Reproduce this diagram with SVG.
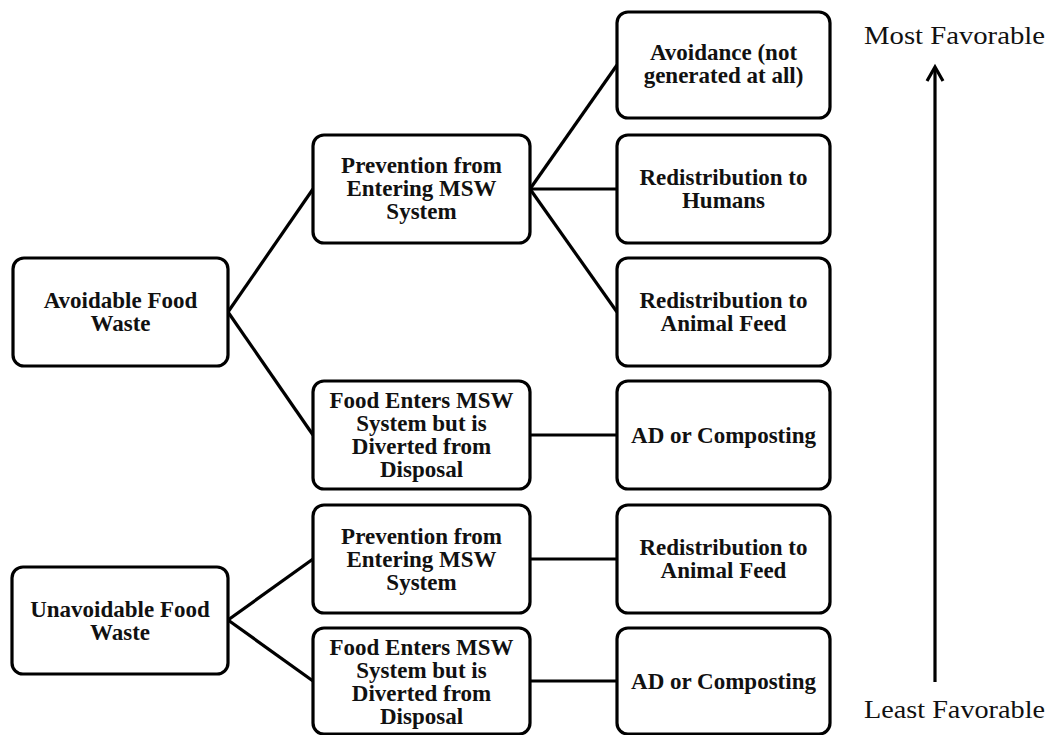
<svg xmlns="http://www.w3.org/2000/svg" width="1052" height="735" viewBox="0 0 1052 735">
<style>
.box{fill:#fff;stroke:#000;stroke-width:3.2}
.lbl{font-family:"Liberation Serif","Times New Roman",serif;font-weight:bold;font-size:23px;text-anchor:middle;fill:#111}
.side{font-family:"Liberation Serif","Times New Roman",serif;font-size:26px;fill:#111}
.con{stroke:#000;stroke-width:3.2;fill:none}
</style>
<rect width="1052" height="735" fill="#fff"/>
<g id="connectors">
<line class="con" x1="228" y1="312" x2="313" y2="189"/>
<line class="con" x1="228" y1="312" x2="313" y2="435"/>
<line class="con" x1="530" y1="189" x2="617" y2="65"/>
<line class="con" x1="530" y1="189" x2="617" y2="189"/>
<line class="con" x1="530" y1="189" x2="617" y2="312"/>
<line class="con" x1="530" y1="435" x2="617" y2="435"/>
<line class="con" x1="228" y1="620" x2="313" y2="559"/>
<line class="con" x1="228" y1="620" x2="313" y2="681"/>
<line class="con" x1="530" y1="559" x2="617" y2="559"/>
<line class="con" x1="530" y1="681" x2="617" y2="681"/>
</g>
<g id="n-avoidable">
<rect class="box" x="13" y="258" width="215" height="108" rx="11"/>
<text class="lbl" x="120.5" y="308">Avoidable Food</text>
<text class="lbl" x="120.5" y="331">Waste</text>
</g>
<g id="n-unavoidable">
<rect class="box" x="12" y="567" width="216" height="107" rx="11"/>
<text class="lbl" x="120" y="617">Unavoidable Food</text>
<text class="lbl" x="120" y="640">Waste</text>
</g>
<g id="n-prevention1">
<rect class="box" x="313" y="135" width="217" height="108" rx="11"/>
<text class="lbl" x="421.5" y="173">Prevention from</text>
<text class="lbl" x="421.5" y="196">Entering MSW</text>
<text class="lbl" x="421.5" y="219">System</text>
</g>
<g id="n-enters1">
<rect class="box" x="313" y="381" width="217" height="108" rx="11"/>
<text class="lbl" x="421.5" y="408">Food Enters MSW</text>
<text class="lbl" x="421.5" y="431">System but is</text>
<text class="lbl" x="421.5" y="454">Diverted from</text>
<text class="lbl" x="421.5" y="477">Disposal</text>
</g>
<g id="n-prevention2">
<rect class="box" x="313" y="505" width="217" height="108" rx="11"/>
<text class="lbl" x="421.5" y="544">Prevention from</text>
<text class="lbl" x="421.5" y="567">Entering MSW</text>
<text class="lbl" x="421.5" y="590">System</text>
</g>
<g id="n-enters2">
<rect class="box" x="313" y="628" width="217" height="106" rx="11"/>
<text class="lbl" x="421.5" y="655">Food Enters MSW</text>
<text class="lbl" x="421.5" y="678">System but is</text>
<text class="lbl" x="421.5" y="701">Diverted from</text>
<text class="lbl" x="421.5" y="724">Disposal</text>
</g>
<g id="n-avoidance">
<rect class="box" x="617" y="12" width="213" height="106" rx="11"/>
<text class="lbl" x="723.5" y="60">Avoidance (not</text>
<text class="lbl" x="723.5" y="83">generated at all)</text>
</g>
<g id="n-humans">
<rect class="box" x="617" y="135" width="213" height="108" rx="11"/>
<text class="lbl" x="723.5" y="185">Redistribution to</text>
<text class="lbl" x="723.5" y="208">Humans</text>
</g>
<g id="n-animal1">
<rect class="box" x="617" y="258" width="213" height="108" rx="11"/>
<text class="lbl" x="723.5" y="308">Redistribution to</text>
<text class="lbl" x="723.5" y="331">Animal Feed</text>
</g>
<g id="n-ad1">
<rect class="box" x="617" y="381" width="213" height="108" rx="11"/>
<text class="lbl" x="723.5" y="443">AD or Composting</text>
</g>
<g id="n-animal2">
<rect class="box" x="617" y="505" width="213" height="108" rx="11"/>
<text class="lbl" x="723.5" y="555">Redistribution to</text>
<text class="lbl" x="723.5" y="578">Animal Feed</text>
</g>
<g id="n-ad2">
<rect class="box" x="617" y="628" width="213" height="106" rx="11"/>
<text class="lbl" x="723.5" y="689">AD or Composting</text>
</g>
<g id="scale">
<line class="con" x1="935" y1="682" x2="935" y2="70"/>
<path class="con" d="M927,81 L935,67 L943,81" stroke-width="3"/>
<text class="side" x="864" y="44" textLength="181" lengthAdjust="spacingAndGlyphs">Most Favorable</text>
<text class="side" x="864" y="718" textLength="181" lengthAdjust="spacingAndGlyphs">Least Favorable</text>
</g>
</svg>
